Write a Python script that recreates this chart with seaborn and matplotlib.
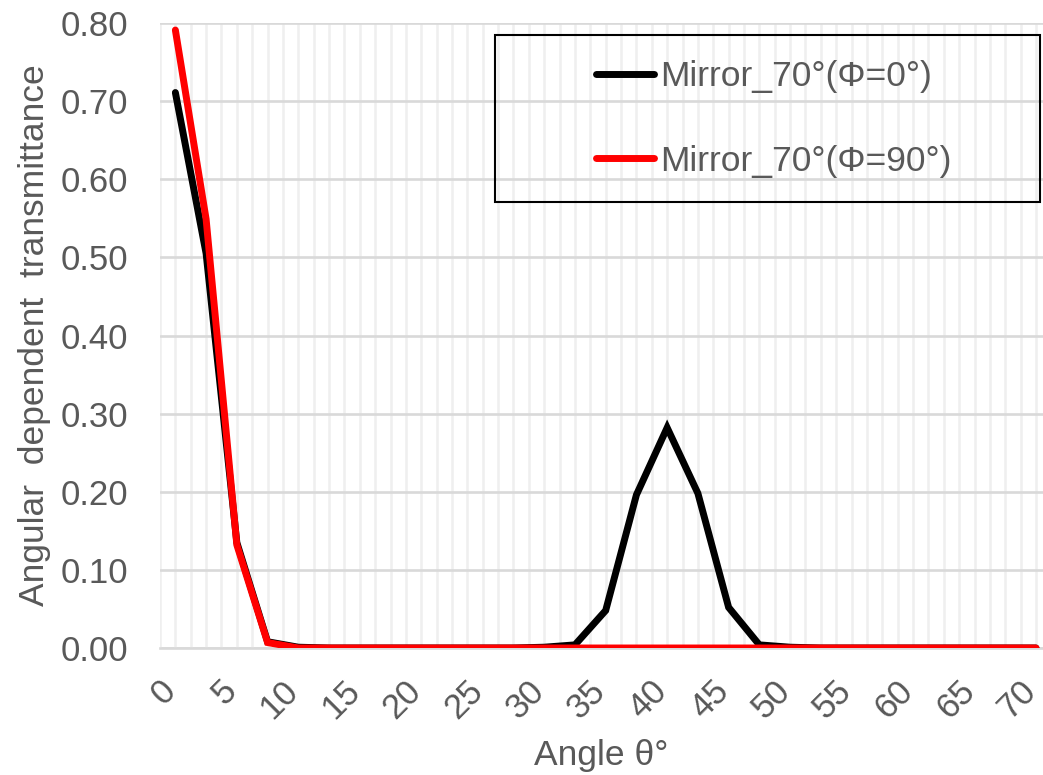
import matplotlib
matplotlib.use("Agg")
import matplotlib.pyplot as plt
import matplotlib.transforms as mtransforms
from matplotlib.patches import Rectangle
import numpy as np
import pandas as pd
import seaborn as sns

# Incidence angle (deg) and transmittance for the two polarisation azimuths
angles = [0, 2.5, 5, 7.5, 10, 12.5, 15, 17.5, 20, 22.5, 25, 27.5, 30, 32.5,
          35, 37.5, 40, 42.5, 45, 47.5, 50, 52.5, 55, 57.5, 60, 62.5, 65,
          67.5, 70]
t_phi0 = [0.711, 0.505, 0.135, 0.008, 0.001, 0.0, 0.0, 0.0, 0.0, 0.0, 0.0,
          0.0, 0.001, 0.004, 0.048, 0.196, 0.282, 0.198, 0.052, 0.004, 0.001,
          0.0, 0.0, 0.0, 0.0, 0.0, 0.0, 0.0, 0.0]
t_phi90 = [0.791, 0.549, 0.132, 0.007, 0.0, 0.0, 0.0, 0.0, 0.0, 0.0, 0.0,
           0.0, 0.0, 0.0, 0.0, 0.0, 0.0, 0.0, 0.0, 0.0, 0.0, 0.0, 0.0, 0.0,
           0.0, 0.0, 0.0, 0.0, 0.0]
series_names = ["Mirror_70°(Φ=0°)", "Mirror_70°(Φ=90°)"]
series_colors = ["#000000", "#ff0000"]
x_tick_values = [0, 5, 10, 15, 20, 25, 30, 35, 40, 45, 50, 55, 60, 65, 70]
y_tick_values = [0.0, 0.1, 0.2, 0.3, 0.4, 0.5, 0.6, 0.7, 0.8]

df = pd.DataFrame({
    "angle": angles * 2,
    "T": t_phi0 + t_phi90,
    "series": [series_names[0]] * len(angles) + [series_names[1]] * len(angles),
})

sns.set_theme(style="white")
plt.rcParams["font.family"] = ["Liberation Sans", "DejaVu Sans"]
TXT = "#595959"
FS = 25.5
LW = 5.0

W, H = 1043, 775
fig = plt.figure(figsize=(W / 100, H / 100), dpi=100)
ax = fig.add_axes([160 / W, 1 - 648 / H, (W - 160) / W, (648 - 23) / H])

sns.lineplot(data=df, x="angle", y="T", hue="series",
             palette=dict(zip(series_names, series_colors)),
             linewidth=LW, ax=ax, legend=True, sort=False)
for ln in ax.get_lines():
    ln.set_solid_capstyle("round")
    ln.set_solid_joinstyle("miter")

ax.set_xlim(-1.22, 70.57)
ax.set_ylim(0, 0.8)

# Gridlines: light vertical every 1.25 deg, grey horizontal every 0.1
ax.set_xticks(x_tick_values)
ax.set_xticks(np.arange(-1.25, 71, 1.25), minor=True)
ax.set_yticks(y_tick_values)
ax.set_yticklabels([f"{v:.2f}" for v in y_tick_values])
ax.grid(False)
ax.grid(axis="x", which="both", color="#efefef", linewidth=1.8)
ax.grid(axis="y", which="major", color="#d9d9d9", linewidth=1.9)
ax.set_axisbelow(True)

for s in ["top", "right", "left"]:
    ax.spines[s].set_visible(False)
ax.spines["bottom"].set_color("#d9d9d9")
ax.spines["bottom"].set_linewidth(1.9)
ax.spines["bottom"].set_zorder(0.5)

ax.tick_params(axis="both", which="both", length=0)
ax.tick_params(axis="y", pad=23, labelsize=25, labelcolor=TXT)
ax.tick_params(axis="x", pad=27, labelsize=25, labelcolor=TXT)
shift = mtransforms.ScaledTranslation(-5 / 100, 0, fig.dpi_scale_trans)
for lab in ax.get_xticklabels():
    lab.set_rotation(45)
    lab.set_rotation_mode("anchor")
    lab.set_ha("right")
    lab.set_va("center")
    lab.set_transform(lab.get_transform() + shift)

ax.set_xlabel("Angle θ°", fontsize=FS, color=TXT)
ax.xaxis.set_label_coords(0.5, -0.146)
ax.xaxis.label.set_va("top")
ax.set_ylabel("Angular  dependent  transmittance", fontsize=FS, color=TXT)
ax.yaxis.set_label_coords(-0.1234, 0.5)

# Legend: borderless entries inside a hand-drawn black frame
handles, labels = ax.get_legend_handles_labels()
if ax.legend_:
    ax.legend_.remove()
leg = fig.legend(handles, labels, loc="center left",
                 bbox_to_anchor=(578 / W, 1 - 119 / H),
                 frameon=False, borderpad=0, fontsize=FS,
                 handlelength=1.65, handletextpad=0.17, labelspacing=1.45)
for t in leg.get_texts():
    t.set_color(TXT)
for h in leg.legend_handles:
    h.set_linewidth(LW)
    h.set_solid_capstyle("round")

frame = Rectangle((495 / W, 1 - 202 / H), (1040 - 495) / W, (202 - 35) / H,
                  transform=fig.transFigure, fill=False,
                  edgecolor="black", linewidth=1.5, zorder=5)
fig.patches.append(frame)

fig.savefig("out.png", dpi=100)
